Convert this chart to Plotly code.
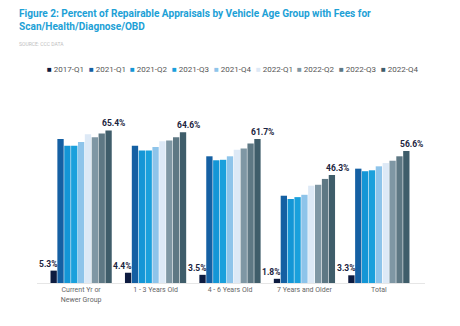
import plotly.graph_objects as go

categories = ["Current Yr or<br>Newer Group", "1 - 3 Years Old", "4 - 6 Years Old", "7 Years and Older", "Total"]
series_names = ["2017-Q1", "2021-Q1", "2021-Q2", "2021-Q3", "2021-Q4", "2022-Q1", "2022-Q2", "2022-Q3", "2022-Q4"]
values = {
    "2017-Q1": [5.3, 4.4, 3.5, 1.8, 3.3],
    "2021-Q1": [61.7, 58.8, 54.3, 37.4, 49.0],
    "2021-Q2": [58.8, 56.8, 52.6, 36.0, 47.9],
    "2021-Q3": [58.8, 56.8, 52.8, 36.8, 48.3],
    "2021-Q4": [60.4, 58.3, 54.3, 37.8, 50.0],
    "2022-Q1": [63.8, 60.7, 57.1, 41.7, 51.4],
    "2022-Q2": [62.5, 61.1, 57.6, 42.1, 52.4],
    "2022-Q3": [64.1, 62.5, 59.8, 44.6, 54.3],
    "2022-Q4": [65.4, 64.6, 61.7, 46.3, 56.6],
}
colors = ["#0d1b40", "#1560a3", "#1496d6", "#1aa0dc", "#8ec4ea", "#dde9f6", "#7f97a4", "#5e7884", "#3f5d6a"]
labeled = ["2017-Q1", "2022-Q4"]

W, H = 460, 326
ml, mr, mt, mb = 37, 35, 108, 43
pw, ph = W - ml - mr, H - mt - mb
bargap = 0.17
n = len(series_names)
slot = pw / len(categories) * (1 - bargap) / n
label_nudge = {"2017-Q1": -4, "2022-Q4": 4}

fig = go.Figure()
for name, col in zip(series_names, colors):
    fig.add_trace(go.Bar(
        x=categories, y=values[name], name=name,
        marker=dict(color=col, line=dict(width=0)), showlegend=False,
    ))

annotations = []
# value labels (drawn above all bars)
for name in labeled:
    idx = series_names.index(name)
    for cat, v in zip(categories, values[name]):
        annotations.append(dict(
            x=cat, y=v, xref="x", yref="y",
            xshift=(idx - (n - 1) / 2) * slot + label_nudge[name],
            yanchor="bottom", yshift=0, showarrow=False,
            text=f"<b>{v:.1f}%</b>",
            font=dict(family="Roboto", size=8.5, color="#1b2440"),
        ))

# legend drawn as annotations
leg_x0, leg_dx, leg_y = 45, 41.7, 69
for i, (name, col) in enumerate(zip(series_names, colors)):
    px = leg_x0 + i * leg_dx
    annotations.append(dict(
        xref="paper", yref="paper", x=(px - ml) / pw, y=(H - mb - leg_y) / ph,
        xanchor="left", yanchor="middle", showarrow=False,
        text=f"<span style='color:{col}'>■</span> {name}",
        font=dict(family="Roboto", size=8, color="#555555"),
    ))
annotations.append(dict(
    xref="paper", yref="paper", x=(17 - ml) / pw, y=(H - mb - 6) / ph,
    xanchor="left", yanchor="top", showarrow=False, align="left",
    text="<b>Figure 2: Percent of Repairable Appraisals by Vehicle Age Group with Fees for<br>Scan/Health/Diagnose/OBD</b>",
    font=dict(family="Roboto", size=10.1, color="#1da1d6"),
))
annotations.append(dict(
    xref="paper", yref="paper", x=(17 - ml) / pw, y=(H - mb - 44) / ph,
    xanchor="left", yanchor="middle", showarrow=False,
    text="SOURCE: CCC DATA", font=dict(family="Roboto", size=5, color="#c0c0c0"),
))

fig.update_layout(
    width=W, height=H, barmode="group", bargap=bargap, bargroupgap=0.08,
    margin=dict(l=ml, r=mr, t=mt, b=mb),
    paper_bgcolor="white", plot_bgcolor="white",
    xaxis=dict(showline=True, linecolor="#e6e6e6", linewidth=1, ticks="",
               tickfont=dict(family="Roboto", size=7, color="#666666")),
    yaxis=dict(range=[0, 75], visible=False),
    annotations=annotations,
    showlegend=False,
)
fig.write_html("out.html")
